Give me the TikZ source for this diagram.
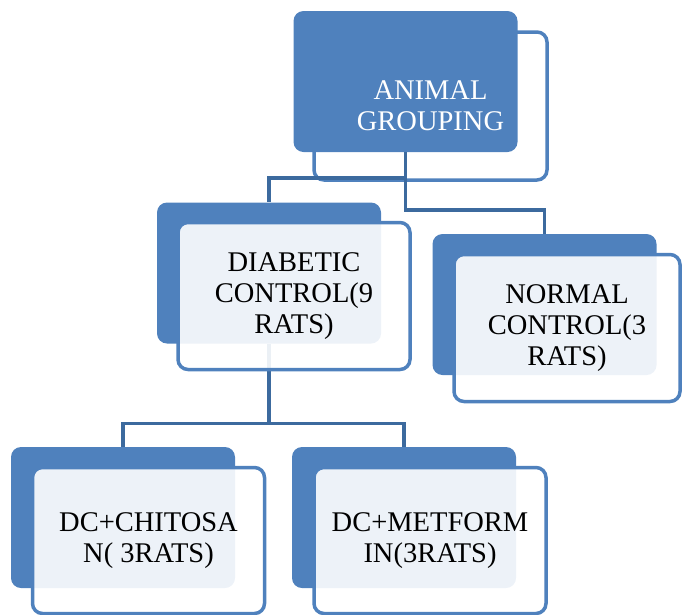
\documentclass[tikz,border=0pt]{standalone}
\usepackage{fontspec}
\setmainfont{Liberation Serif}
\definecolor{accent}{HTML}{4F81BD}
\definecolor{linkc}{HTML}{3C6A9E}
\begin{document}
\begin{tikzpicture}[x=1pt,y=-1pt,
  backbox/.style={draw=none, fill=accent, rounded corners=10pt,
    minimum width=224pt, minimum height=141pt, inner sep=0pt},
  frontbox/.style={draw=accent, line width=3.5pt, fill=white, fill opacity=0.9,
    text opacity=1, rounded corners=10pt, minimum width=232pt,
    minimum height=147pt, inner sep=0pt, align=center,
    font=\fontsize{28.5}{31}\selectfont},
  link/.style={draw=linkc, line width=3.5pt}]
\useasboundingbox (0,0) rectangle (682,614);

% top node parts
\node[draw=accent, line width=3.5pt, rounded corners=10pt, minimum width=233pt,
  minimum height=148pt, inner sep=0pt] (tf) at (430.5,106) {};
% back boxes
\node[backbox] (tb)  at (405.5,81.5) {};
\node[backbox] (dcb) at (269,273) {};
\node[backbox] (ncb) at (544.5,304.5) {};
\node[backbox] (chb) at (123,517.5) {};
\node[backbox] (mfb) at (404,517.5) {};

% connectors
\draw[link] (tb.south) -- ++(0,26) -| (dcb.north);
\draw[link] (tb.south) -- ++(0,58) -| (ncb.north);
\draw[link] (dcb.south) -- ++(0,80) -| (chb.north);
\draw[link] (dcb.south) -- ++(0,80) -| (mfb.north);

% top text
\node[align=center, text=white, font=\fontsize{28.5}{31}\selectfont] (tt) at (tf.center) {ANIMAL\\GROUPING};

% front boxes
\node[frontbox] (dcf) at (294,296) {DIABETIC\\CONTROL(9\\RATS)};
\node[frontbox, minimum width=226pt] (ncf) at (567,328) {NORMAL\\CONTROL(3\\RATS)};
\node[frontbox, minimum height=146pt] (chf) at (148.5,540.5) {DC+CHITOSA\\N( 3RATS)};
\node[frontbox, minimum height=146pt] (mff) at (430,540.5) {DC+METFORM\\IN(3RATS)};
\end{tikzpicture}
\end{document}
